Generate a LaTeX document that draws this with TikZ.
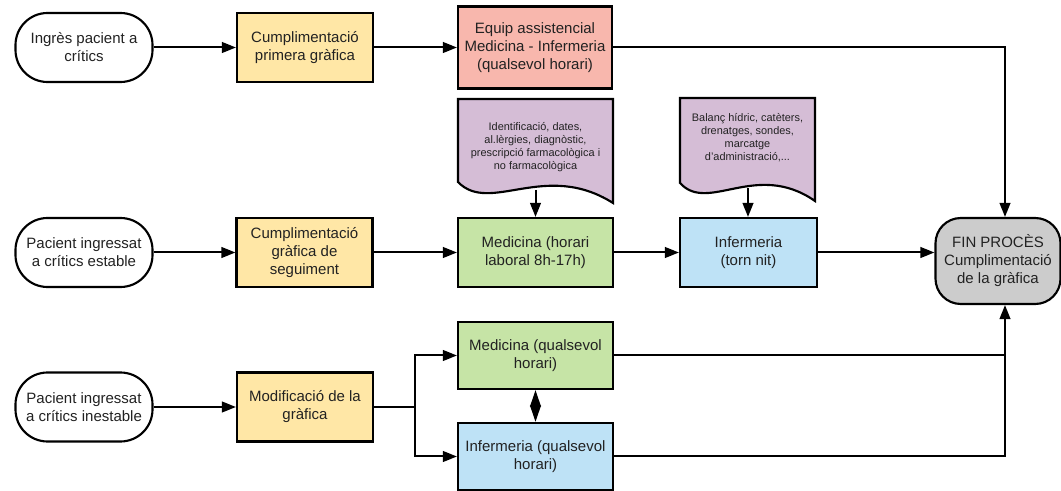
\documentclass[tikz,border=0pt]{standalone}
\usepackage{fontspec}
\setmainfont{Liberation Sans}
\usetikzlibrary{arrows.meta,calc}

\definecolor{ink}{HTML}{222222}
\definecolor{prepfill}{HTML}{FFE7A6}
\definecolor{teamfill}{HTML}{F8B7AD}
\definecolor{docfill}{HTML}{D5BDD6}
\definecolor{medfill}{HTML}{C6E4A6}
\definecolor{nursefill}{HTML}{BEE2F6}
\definecolor{endfill}{HTML}{CCCCCC}

\begin{document}
\begin{tikzpicture}[x=0.75pt,y=-0.75pt,
  font=\fontsize{11.25}{13.5}\selectfont,
  base/.style={draw=black, line width=1.6pt, align=center, inner sep=0pt, text=ink},
  terminal/.style={base, fill=white, rounded corners=24pt,
    minimum width=102.75pt, minimum height=51.75pt},
  prep/.style={base, fill=prepfill, minimum width=102pt, minimum height=51.75pt},
  team/.style={base, fill=teamfill, minimum width=115.5pt, minimum height=61.5pt},
  med/.style={base, fill=medfill, minimum width=116.25pt, minimum height=51.75pt},
  nurse/.style={base, fill=nursefill, minimum width=102.75pt, minimum height=51.75pt},
  finbox/.style={base, fill=endfill, rounded corners=19pt,
    minimum width=93.75pt, minimum height=64.5pt},
  docshape/.style={draw=black, line width=1.6pt, fill=docfill},
  doctext/.style={align=center, inner sep=0pt, text=ink,
    font=\fontsize{8.2}{9.8}\selectfont},
  conn/.style={line width=1.5pt, -{Triangle[length=10.5pt,width=8pt]}},
  wire/.style={line width=1.5pt},
  twoway/.style={line width=1.5pt,
    {Triangle[length=12.5pt,width=8pt]}-{Triangle[length=12.5pt,width=8pt]}}
]
\useasboundingbox (0,0) rectangle (1061,491);

% ---- row 1: new admission
\node[terminal] (o1) at (84,47.5) {Ingrès pacient a\\crítics};
\node[prep] (y1) at (305,47.5) {Cumplimentació\\primera gràfica};
\node[team] (team) at (535,47.5) {Equip assistencial\\Medicina - Infermeria\\(qualsevol horari)};

% ---- document shapes (data recorded by each team)
\path[docshape] (458,99) -- (613,99) -- (613,203)
  .. controls (545,160) and (490,215) .. (458,182) -- cycle;
\node[doctext] (d1) at (535.5,147) {Identificació, dates,\\al.lèrgies, diagnòstic,\\prescripció farmacològica i\\no farmacològica};
\coordinate (d1b) at (535.5,190);

\path[docshape] (680,98) -- (815,98) -- (815,201)
  .. controls (756,160) and (708,214) .. (680,183) -- cycle;
\node[doctext] (d2) at (747.5,138) {Balanç hídric, catèters,\\drenatges, sondes,\\marcatge\\d'administració,...};
\coordinate (d2b) at (748,188);

% ---- row 2: stable patient
\node[terminal] (o2) at (84,252.5) {Pacient ingressat\\a crítics estable};
\node[prep] (y2) at (304.5,252.5) {Cumplimentació\\gràfica de\\seguiment};
\node[med] (gm) at (535.5,252.5) {Medicina (horari\\laboral 8h-17h)};
\node[nurse] (bi) at (748.5,252.5) {Infermeria\\(torn nit)};
\node[finbox] (fin) at (998,261) {FIN PROCÈS\\Cumplimentació\\de la gràfica};

% ---- row 3: unstable patient
\node[terminal] (o3) at (84,407) {Pacient ingressat\\a crítics inestable};
\node[prep] (y3) at (305,407) {Modificació de la\\gràfica};
\node[med, minimum height=50.25pt] (gq) at (535.5,355.5) {Medicina (qualsevol\\horari)};
\node[nurse, minimum width=116.25pt, minimum height=50.25pt] (bq) at (535.5,456.5) {Infermeria (qualsevol\\horari)};

% ---- junction points
\coordinate (c1) at (1005,47.5);
\coordinate (br) at (415,407);

% ---- connectors
\draw[conn] (o1) -- (y1);
\draw[conn] (y1) -- (team);
\draw[conn] (team.east) -- (c1) -- (c1 |- fin.north);

\draw[conn] (d1b) -- (gm.north);
\draw[conn] (d2b) -- (bi.north -| d2b);

\draw[conn] (o2) -- (y2);
\draw[conn] (y2) -- (gm);
\draw[conn] (gm) -- (bi);
\draw[conn] (bi.east) -- (bi.east -| fin.west);

\draw[conn] (o3) -- (y3);
\draw[wire] (y3.east) -- (br);
\draw[conn] (br) |- (gq.west);
\draw[conn] (br) |- (bq.west);
\draw[twoway] (gq.south) -- (bq.north);

\draw[wire] (gq.east) -- (gq.east -| c1);
\draw[wire] (bq.east) -- (bq.east -| c1) -- (gq.east -| c1);
\draw[conn] (gq.east -| c1) -- (c1 |- fin.south);
\end{tikzpicture}
\end{document}
